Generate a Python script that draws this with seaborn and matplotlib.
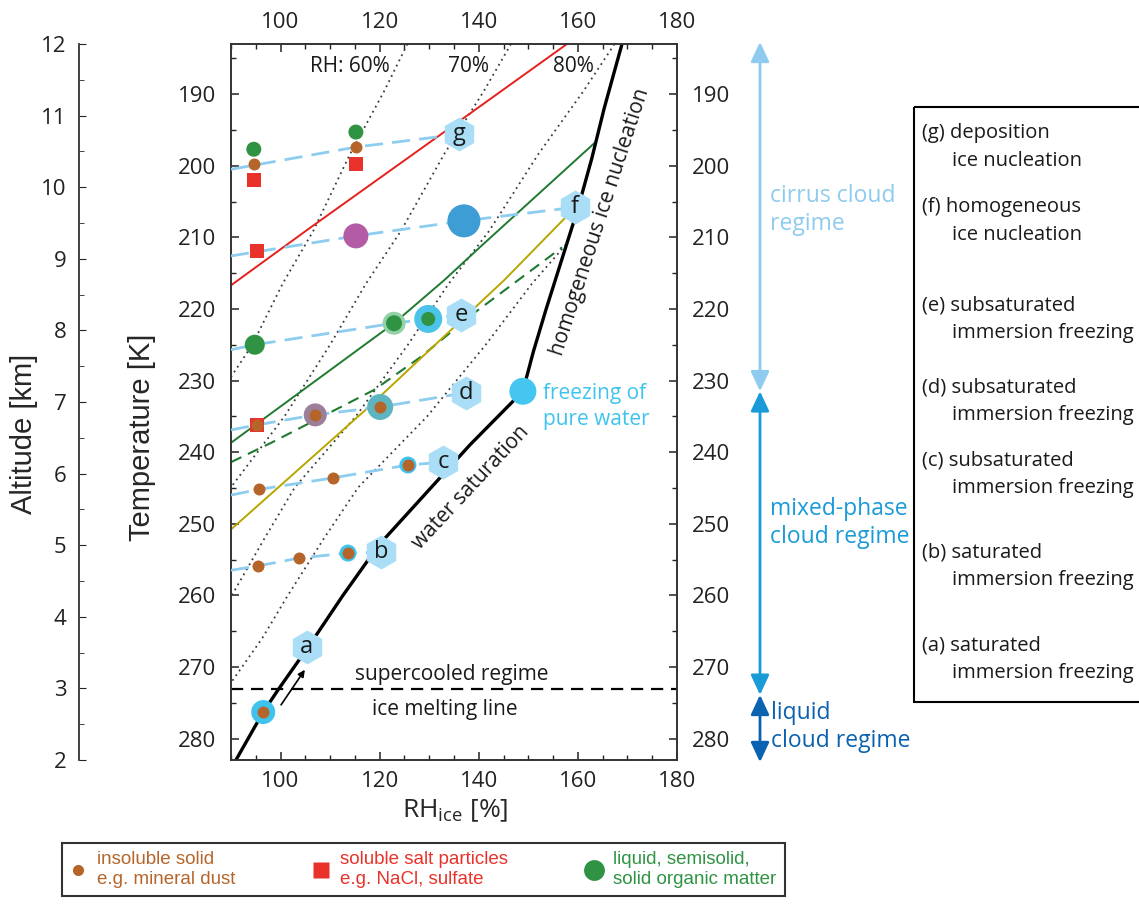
#! /usr/bin/env python3

import numpy as np
import matplotlib.pyplot as plt
from matplotlib.lines import Line2D
from matplotlib.patches import Rectangle
from matplotlib.ticker import MultipleLocator
import seaborn as sns

sns.set_style("ticks")
plt.rcParams['font.family'] = ['Open Sans', 'DejaVu Sans']
plt.rcParams['mathtext.fontset'] = 'custom'
plt.rcParams['mathtext.rm'] = 'Open Sans'
plt.rcParams['text.color'] = '#1a1a1a'
NARROW = ['Liberation Sans Narrow', 'Liberation Sans', 'DejaVu Sans']

# ---- values: RH_ice [%] vs temperature [K] ----
ws_T = [283.0, 276.3, 273.2, 267.0, 260.0, 253.0, 246.0, 239.0, 231.5]
ws_rh = [91.0, 96.5, 99.5, 105.8, 112.6, 119.8, 129.0, 138.2, 148.9]
hom_T = [231.5, 226.0, 220.0, 213.0, 206.0, 199.0, 192.0, 183.0]
hom_rh = [148.9, 151.0, 153.6, 156.8, 160.0, 162.8, 165.3, 168.9]

rh60_T = [183.0, 189.6, 198.4, 209.1, 216.5, 225.0, 229.5]
rh60_rh = [125.6, 120.9, 114.0, 106.6, 100.4, 94.3, 90.0]
rh70_T = [183.0, 189.6, 198.4, 209.1, 216.5, 225.0, 235.0, 244.9]
rh70_rh = [146.5, 141.0, 133.0, 124.3, 117.2, 110.0, 100.8, 90.0]
rh80_T = [183.0, 189.6, 198.4, 209.1, 216.5, 225.0, 235.0, 244.9, 252.0, 260.2]
rh80_rh = [167.4, 161.1, 152.0, 142.1, 133.9, 125.7, 115.2, 102.9, 96.8, 90.0]
rh90_T = [211.0, 216.5, 225.0, 235.0, 244.9, 252.0, 260.2, 266.0, 272.2]
rh90_rh = [157.6, 150.7, 141.4, 129.6, 115.7, 108.8, 101.3, 96.3, 90.0]

red_T = [216.7, 208.6, 195.4, 183.0]
red_rh = [90.0, 106.1, 132.8, 157.8]
grn_T = [238.7, 222.0, 216.0, 211.4, 196.8]
grn_rh = [90.0, 122.9, 133.0, 140.2, 163.4]
grn_dash_T = [241.4, 238.7, 231.3, 226.7, 220.4, 211.4]
grn_dash_rh = [90.0, 98.1, 118.9, 128.3, 139.4, 156.8]
yel_T = [250.8, 233.7, 216.0, 207.3]
yel_rh = [90.0, 117.8, 145.1, 157.4]

# experimental pathways (light blue dashed), one per nucleation mode
path_g = ([90.0, 115.2, 136.0], [200.5, 197.4, 195.6])
path_f = ([90.0, 115.2, 137.0, 159.4], [212.6, 209.8, 207.7, 205.8])
path_e = ([90.0, 94.8, 122.9, 129.8, 136.5], [225.7, 225.0, 222.0, 221.4, 220.8])
path_d = ([90.0, 95.2, 107.0, 120.1, 137.4], [236.9, 236.2, 234.8, 233.7, 231.7])
path_c = ([90.0, 95.7, 110.6, 125.7, 132.8], [246.0, 245.2, 243.6, 241.8, 241.4])
path_b = ([90.0, 95.4, 103.7, 113.6, 120.3], [256.5, 255.9, 254.8, 254.1, 254.0])

hex_labels = ['g', 'f', 'e', 'd', 'c', 'b', 'a']
hex_rh = [136.0, 159.4, 136.5, 137.4, 132.8, 120.3, 105.3]
hex_T = [195.6, 205.8, 220.8, 231.7, 241.4, 254.0, 267.2]

dust_rh = [94.6, 115.2, 95.2, 107.0, 120.1, 95.7, 110.6, 125.7, 95.4, 103.7, 113.6, 96.5]
dust_T = [199.8, 197.4, 236.2, 234.8, 233.7, 245.2, 243.6, 241.8, 255.9, 254.8, 254.1, 276.3]
salt_rh = [94.6, 115.2, 95.2, 95.2]
salt_T = [202.0, 199.8, 211.9, 236.2]
org_rh = [94.6, 115.2, 94.8, 122.9, 129.8]
org_T = [197.7, 195.3, 225.0, 222.0, 221.4]
org_d = [15, 15, 20, 16, 14]

# background discs (coatings / other particle types), diameter in px
disc_rh = [115.2, 137.0, 122.9, 129.8, 107.0, 120.1, 125.7, 113.6, 96.5, 148.9]
disc_T = [209.8, 207.7, 222.0, 221.4, 234.8, 233.7, 241.8, 254.1, 276.3, 231.5]
disc_d = [25, 33, 23, 28, 23, 26, 17, 17, 24, 27]
disc_col = ['#b45ba6', '#3f9dd6', '#93d2a6', '#4cc4ea', '#9c7f9b', '#5db5bf',
            '#3ec3ee', '#3ec3ee', '#3ec3ee', '#44c6f0']

arrow_start = (100.1, 275.3)
arrow_end = (104.9, 270.4)
T_melt = 273.15

# regime ranges on the right [K]
cirrus_rng = (182.7, 231.5)
mixed_rng = (231.5, 273.9)
liquid_rng = (273.9, 283.3)

c_lblue = '#8ccdf0'
c_hex = '#a9def6'
c_brown = '#b5652a'
c_red = '#e8322a'
c_green = '#2f9343'


def s_px(d):
    # marker area (pt^2) for a diameter given in pixels at 100 dpi
    return (d * 0.72) ** 2


fig = plt.figure(figsize=(11.39, 9.05), dpi=100)
ax = fig.add_axes([231 / 1139, 1 - 760 / 905, 446 / 1139, 716 / 905])


def line(x, y, z, **kw):
    sns.lineplot(x=x, y=y, sort=False, estimator=None, ax=ax, legend=False, zorder=z, **kw)


dot = (0, (1, 2.2))
for xs, ys in [(rh60_rh, rh60_T), (rh70_rh, rh70_T), (rh80_rh, rh80_T), (rh90_rh, rh90_T)]:
    line(xs, ys, 1.5, color='#3a3a3a', lw=1.3, linestyle=dot)

line(red_rh, red_T, 2, color='#e5201c', lw=1.4)
line(grn_rh, grn_T, 2, color='#1f7a30', lw=1.4)
line(grn_dash_rh, grn_dash_T, 2, color='#1f7a30', lw=1.5, linestyle=(0, (5.5, 3.5)))
line(yel_rh, yel_T, 2, color='#b8a600', lw=1.4)
line(ws_rh, ws_T, 2.5, color='black', lw=2.4)
line(hom_rh, hom_T, 2.5, color='black', lw=2.4)
ax.axhline(T_melt, color='black', lw=1.6, linestyle=(0, (5.5, 3.5)), zorder=2.5)

for xs, ys in [path_g, path_f, path_e, path_d, path_c, path_b]:
    line(xs, ys, 3, color=c_lblue, lw=2.0, linestyle=(0, (6.5, 3.3)))

sns.scatterplot(x=disc_rh, y=disc_T, s=[s_px(d) for d in disc_d], c=disc_col,
                linewidth=0, ax=ax, legend=False, zorder=4)
sns.scatterplot(x=salt_rh, y=salt_T, s=s_px(14), color=c_red, marker='s',
                linewidth=0, ax=ax, legend=False, zorder=5)
sns.scatterplot(x=org_rh, y=org_T, s=[s_px(d) for d in org_d], color=c_green,
                linewidth=0, ax=ax, legend=False, zorder=5)
sns.scatterplot(x=dust_rh, y=dust_T, s=s_px(12), color=c_brown,
                linewidth=0, ax=ax, legend=False, zorder=6)
sns.scatterplot(x=hex_rh, y=hex_T, s=s_px(34), color=c_hex, marker='h',
                linewidth=0, ax=ax, legend=False, zorder=7)
for lab, x, y in zip(hex_labels, hex_rh, hex_T):
    ax.text(x, y, lab, ha='center', va='center', fontsize=17, zorder=8)

ax.annotate('', xy=arrow_end, xytext=arrow_start,
            arrowprops=dict(arrowstyle='-|>', color='black', lw=1.2,
                            mutation_scale=10, shrinkA=0, shrinkB=0))

# in-plot text
ax.text(113.9, 186.2, 'RH: 60%', ha='center', va='center', fontsize=15)
ax.text(138.0, 186.2, '70%', ha='center', va='center', fontsize=15)
ax.text(159.2, 186.2, '80%', ha='center', va='center', fontsize=15)
ax.text(164.5, 207.9, 'homogeneous ice nucleation', rotation=72, ha='center',
        va='center', fontsize=15, rotation_mode='anchor')
ax.text(138.4, 245.0, 'water saturation', rotation=47, ha='center',
        va='center', fontsize=15, rotation_mode='anchor')
ax.text(153.0, 233.6, 'freezing of\npure water', color='#3ec3ee', ha='left',
        va='center', fontsize=15, linespacing=1.3)
ax.text(134.6, 271.1, 'supercooled regime', ha='center', va='center', fontsize=15)
ax.text(133.2, 276.0, 'ice melting line', ha='center', va='center', fontsize=15)

ax.set_xlim(90, 180)
ax.set_ylim(283, 183)
ax.xaxis.set_major_locator(MultipleLocator(20))
ax.xaxis.set_minor_locator(MultipleLocator(5))
ax.yaxis.set_major_locator(MultipleLocator(10))
ax.yaxis.set_minor_locator(MultipleLocator(5))
ax.tick_params(which='both', direction='in', top=True, right=True,
               labeltop=True, labelright=True, labelsize=16, colors='#222222')
ax.tick_params(which='major', length=6, width=1.1, pad=8)
ax.tick_params(axis='y', which='major', pad=11)
ax.tick_params(which='minor', length=3.6, width=1.0)
for sp in ax.spines.values():
    sp.set_linewidth(1.4)
    sp.set_color('#333333')

ax.set_xlabel(r'RH$_{\mathrm{ice}}$ [%]', fontsize=19)
ax.xaxis.set_label_coords(0.502, -0.052)
ax.set_ylabel('Temperature [K]', fontsize=21, family=NARROW)
ax.yaxis.set_label_coords(-0.168, 0.45)

# altitude axis
ax_alt = fig.add_axes([79 / 1139, 1 - 760 / 905, 0.02, 716 / 905])
ax_alt.set_ylim(2, 12)
ax_alt.patch.set_visible(False)
for k in ['top', 'right', 'bottom']:
    ax_alt.spines[k].set_visible(False)
ax_alt.spines['left'].set_linewidth(1.3)
ax_alt.spines['left'].set_color('#333333')
ax_alt.set_xticks([])
ax_alt.yaxis.set_major_locator(MultipleLocator(1))
ax_alt.yaxis.set_minor_locator(MultipleLocator(0.5))
ax_alt.tick_params(which='both', direction='in', labelsize=16, colors='#222222')
ax_alt.tick_params(which='major', length=5, pad=9)
ax_alt.tick_params(which='minor', length=3.5)
ax_alt.set_ylabel('Altitude [km]', fontsize=21, family=NARROW)
ax_alt.yaxis.set_label_coords(-1.8, 0.455)

# regime arrows to the right of the plot
trans = ax.get_yaxis_transform()
xa = (760 - 231) / 446
xt = (770 - 231) / 446
for (t0, t1), col in [(cirrus_rng, '#8ecbef'), (mixed_rng, '#1b9ad8'), (liquid_rng, '#0a62b0')]:
    ax.annotate('', xy=(xa, t0), xytext=(xa, t1), xycoords=trans, textcoords=trans,
                annotation_clip=False,
                arrowprops=dict(arrowstyle='<|-|>,head_length=0.6,head_width=0.28',
                                color=col, lw=2, mutation_scale=20, shrinkA=0, shrinkB=0))
ax.text(xt, 206.2, 'cirrus cloud\nregime', transform=trans, color='#8ecbef',
        fontsize=16.5, va='center', ha='left', linespacing=1.25)
ax.text(xt, 249.9, 'mixed-phase\ncloud regime', transform=trans, color='#1b9ad8',
        fontsize=16.5, va='center', ha='left', linespacing=1.25)
ax.text(xt + 0.003, 278.4, 'liquid\ncloud regime', transform=trans, color='#0a62b0',
        fontsize=16.5, va='center', ha='left', linespacing=1.25)

# explanation box on the right (pixel coordinates)
ov = fig.add_axes([0, 0, 1, 1], zorder=-1)
ov.set_xlim(0, 1139)
ov.set_ylim(905, 0)
ov.axis('off')
ov.add_patch(Rectangle((914, 107), 300, 595, fill=False, lw=1.5, ec='black'))
modes = [('(g) deposition', 'ice nucleation', 133),
         ('(f) homogeneous', 'ice nucleation', 207),
         ('(e) subsaturated', 'immersion freezing', 305),
         ('(d) subsaturated', 'immersion freezing', 387),
         ('(c) subsaturated', 'immersion freezing', 460),
         ('(b) saturated', 'immersion freezing', 552),
         ('(a) saturated', 'immersion freezing', 645)]
for first, second, y in modes:
    ov.text(922, y, first, fontsize=14.5, va='center', ha='left')
    ov.text(952, y + 28, second, fontsize=14.5, va='center', ha='left')

# particle-type legend below
handles = [Line2D([], [], ls='', marker='o', ms=8, mfc=c_brown, mec='none'),
           Line2D([], [], ls='', marker='s', ms=11, mfc=c_red, mec='none'),
           Line2D([], [], ls='', marker='o', ms=15, mfc=c_green, mec='none')]
labels = ['insoluble solid\ne.g. mineral dust',
          'soluble salt particles\ne.g. NaCl, sulfate',
          'liquid, semisolid,\nsolid organic matter']
leg = fig.legend(handles, labels, loc='upper left', bbox_to_anchor=(62 / 1139, 1 - 843 / 905),
                 ncol=3, frameon=True, fancybox=False, edgecolor='black',
                 prop=dict(family=NARROW, size=13.5), labelcolor=[c_brown, c_red, c_green],
                 handlelength=0.8, handletextpad=0.6, columnspacing=4.2, borderpad=0.45,
                 borderaxespad=0)
leg.get_frame().set_linewidth(1.5)

fig.savefig('out.png', dpi=100)
